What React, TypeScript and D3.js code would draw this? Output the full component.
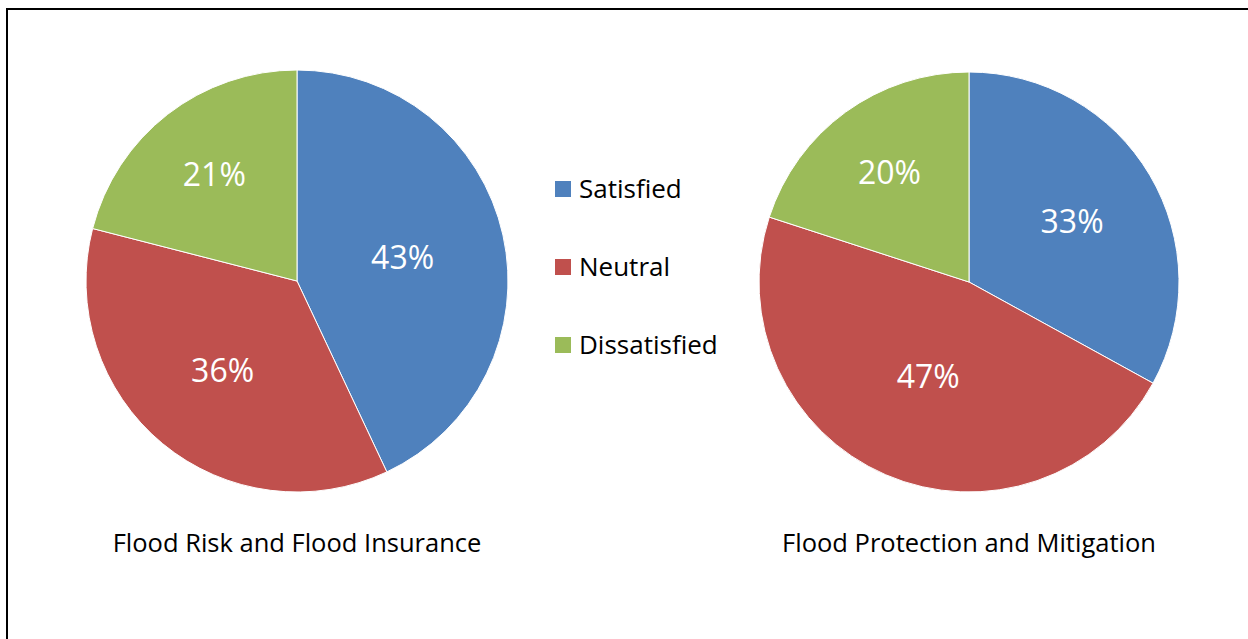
import React from "react";
import * as d3 from "d3";

const categories = ["Satisfied", "Neutral", "Dissatisfied"];
const colors = ["#4F81BD", "#C0504D", "#9BBB59"];
const pieTitles = ["Flood Risk and Flood Insurance", "Flood Protection and Mitigation"];
const riskValues = [43, 36, 21];
const protectionValues = [33, 47, 20];

const W = 1248;
const H = 639;
const FONT = "'Open Sans', 'Noto Sans', sans-serif";

// label radius (as fraction of pie radius) depends on the slice share
const labelRadius = d3.scaleLinear().domain([0.2, 0.47]).range([0.645, 0.49]);

function Pie({ values, cx, cy, r, title }: { values: number[]; cx: number; cy: number; r: number; title: string }) {
  const pie = d3.pie<number>().sort(null).value((d) => d);
  const arcs = pie(values);
  const arcGen = d3.arc<d3.PieArcDatum<number>>().innerRadius(0).outerRadius(r);
  const total = d3.sum(values);
  return (
    <g>
      <g transform={`translate(${cx},${cy})`}>
        {arcs.map((a, i) => (
          <path key={i} d={arcGen(a) || ""} fill={colors[i]} stroke="#fff" strokeWidth={1} />
        ))}
        {arcs.map((a, i) => {
          const frac = values[i] / total;
          const lr = labelRadius(frac) * r;
          const [x, y] = d3.arc<d3.PieArcDatum<number>>().innerRadius(lr).outerRadius(lr).centroid(a);
          return (
            <text key={"t" + i} x={x} y={y} dy="0.36em" textAnchor="middle" fill="#fff" fontSize={32} fontFamily={FONT}>
              {Math.round(frac * 100)}%
            </text>
          );
        })}
      </g>
      <text x={cx} y={552} textAnchor="middle" fill="#000" fontSize={25.5} fontFamily={FONT}>
        {title}
      </text>
    </g>
  );
}

export default function App() {
  const legendY = d3.scalePoint<string>().domain(categories).range([189, 345]);
  return (
    <svg width={W} height={H} style={{ position: "absolute", left: 0, top: 0, background: "#fff" }}>
      <rect x={7} y={9} width={W + 20} height={H + 20} fill="#fff" stroke="#000" strokeWidth={2} />
      <Pie values={riskValues} cx={297} cy={281} r={211} title={pieTitles[0]} />
      <Pie values={protectionValues} cx={969} cy={282} r={210} title={pieTitles[1]} />
      {categories.map((c, i) => (
        <g key={c} transform={`translate(555,${legendY(c)})`}>
          <rect x={0} y={-8} width={16} height={16} fill={colors[i]} />
          <text x={24} y={0} dy="0.36em" fontSize={26} fontFamily={FONT} fill="#000">
            {c}
          </text>
        </g>
      ))}
    </svg>
  );
}
